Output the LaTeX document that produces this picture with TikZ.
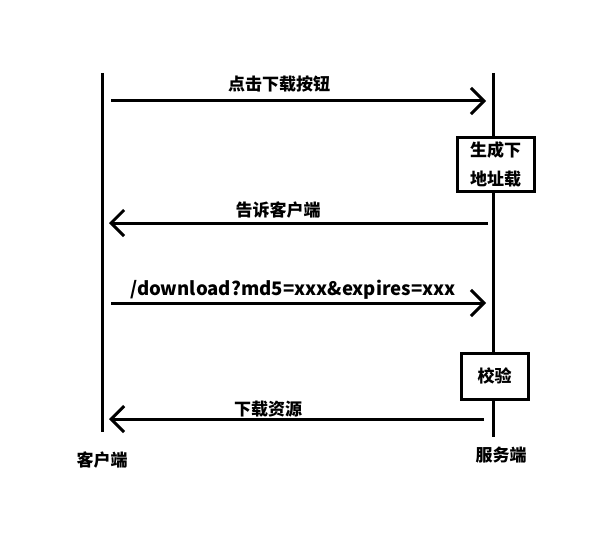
\documentclass[tikz,border=0pt]{standalone}
\usepackage{fontspec}
\setmainfont{Noto Sans CJK SC}
\usetikzlibrary{arrows.meta}
\begin{document}
\begin{tikzpicture}[x=1pt,y=-1pt,
  life/.style={line width=3pt},
  msg/.style={line width=3pt,-{Straight Barb[length=13pt,width=26pt,line width=3pt]}},
  lbl/.style={font=\fontsize{17}{20}\selectfont\bfseries,inner sep=0pt},
  procbox/.style={draw,line width=3pt,fill=white,font=\fontsize{17}{29}\selectfont\bfseries,align=center,inner sep=0pt}]
\useasboundingbox (0,0) rectangle (604,532);
% lifelines
\coordinate (cTop) at (102,73);
\coordinate (cBot) at (102,432);
\coordinate (sTop) at (493,73);
\coordinate (sBot) at (493,437);
\draw[life] (cTop) -- (cBot);
\draw[life] (sTop) -- (sBot);
% boxes
\node[procbox,minimum width=77pt,minimum height=54pt] (gen) at (495.5,164) {生成下\\地址载};
\node[procbox,minimum width=67pt,minimum height=46pt] (chk) at (494.5,376) {校验};
% messages
\coordinate (a1s) at (111,101);  \coordinate (a1e) at (486,101);
\coordinate (a2s) at (488,223);  \coordinate (a2e) at (109,223);
\coordinate (a3s) at (111,303);  \coordinate (a3e) at (486,303);
\coordinate (a4s) at (484,419);  \coordinate (a4e) at (109,419);
\draw[msg] (a1s) -- (a1e);
\draw[msg] (a2s) -- (a2e);
\draw[msg] (a3s) -- (a3e);
\draw[msg] (a4s) -- (a4e);
% labels
\node[lbl] (l1) at (279,84) {点击下载按钮};
\node[lbl] (l2) at (278,210) {告诉客户端};
\node[lbl,font=\fontsize{18.6}{22}\selectfont\bfseries] (l3) at (293,290) {/download?md5=xxx\&expires=xxx};
\node[lbl] (l4) at (268,409) {下载资源};
\node[lbl] (cl) at (102,460) {客户端};
\node[lbl] (sl) at (501,455) {服务端};
\end{tikzpicture}
\end{document}
